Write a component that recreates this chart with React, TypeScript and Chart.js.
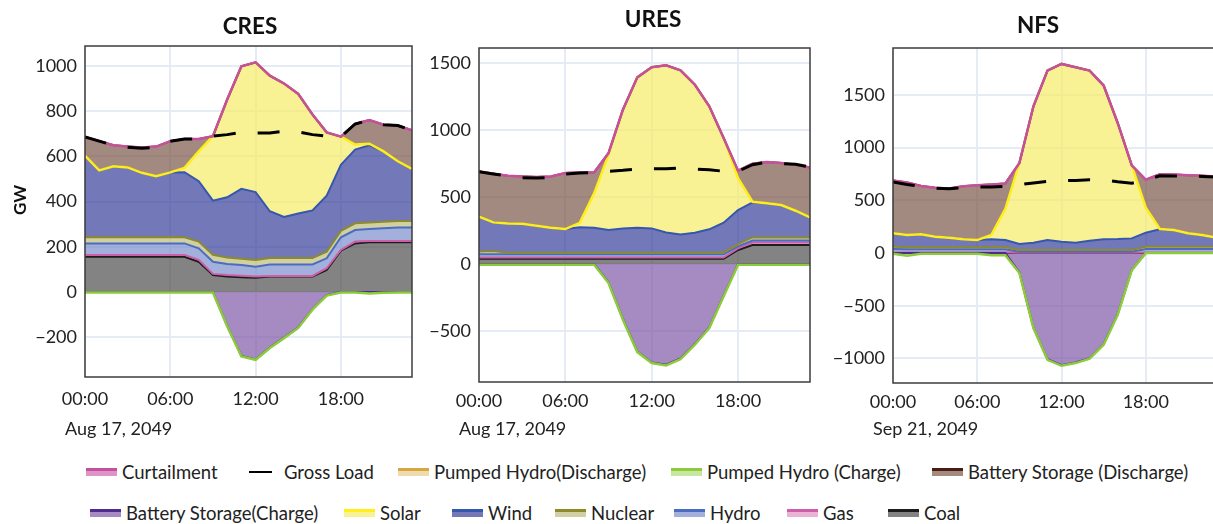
import React, { useEffect, useRef } from 'react';
import { Chart, registerables } from 'chart.js';

Chart.register(...registerables);
Chart.defaults.font.family = "Lato, 'Open Sans', sans-serif";
Chart.defaults.color = '#222';

// ---------- shared axis data ----------
const HOURS = [0, 1, 2, 3, 4, 5, 6, 7, 8, 9, 10, 11, 12, 13, 14, 15, 16, 17, 18, 19, 20, 21, 22, 23];
const X_TICKS = [0, 6, 12, 18];
const CRES_Y_TICKS = [-200, 0, 200, 400, 600, 800, 1000];
const URES_Y_TICKS = [-500, 0, 500, 1000, 1500];
const NFS_Y_TICKS = [-1000, -500, 0, 500, 1000, 1500];

// ---------- CRES (Aug 17, 2049) GW ----------
const CRES_COAL = [156, 156, 156, 156, 156, 156, 156, 156, 134, 75, 68, 65, 63, 68, 68, 68, 68, 97, 183, 215, 220, 220, 220, 220];
const CRES_GAS = [8, 8, 8, 8, 8, 8, 8, 8, 8, 5, 7, 7, 5, 3, 3, 3, 3, 8, 3, 8, 6, 6, 6, 6];
const CRES_HYDRO = [51, 51, 51, 51, 51, 51, 51, 51, 51, 54, 49, 47, 44, 51, 51, 51, 51, 44, 56, 51, 53, 56, 59, 59];
const CRES_NUCLEAR = [27, 27, 27, 27, 27, 27, 27, 27, 30, 30, 29, 28, 30, 28, 28, 28, 28, 29, 28, 30, 28, 29, 29, 29];
const CRES_WIND = [361, 296, 314, 309, 285, 270, 287, 288, 267, 240, 266, 309, 300, 207, 182, 197, 211, 248, 293, 326, 342, 311, 264, 230];
const CRES_SOLAR = [0, 0, 0, 0, 0, 0, 0, 19, 132, 285, 432, 542, 574, 600, 590, 529, 424, 280, 124, 22, 7, 0, 0, 0];
const CRES_BATT_DIS = [83, 129, 93, 92, 112, 131, 138, 128, 55, 0, 0, 0, 0, 0, 0, 0, 0, 0, 0, 91, 104, 118, 158, 171];
const CRES_PH_DIS = [0, 0, 0, 0, 0, 0, 0, 0, 0, 0, 0, 0, 0, 0, 0, 0, 0, 0, 0, 0, 0, 0, 0, 0];
const CRES_CURTAIL = [0, 0, 0, 0, 0, 0, 0, 0, 0, 0, 0, 0, 0, 0, 0, 0, 0, 0, 0, 0, 0, 0, 0, 0];
const CRES_BATT_CHG = [0, 0, 0, 0, 0, 0, 0, 0, 0, 0, -150, -283, -298, -246, -202, -157, -76, -14, 0, 0, 0, 0, 0, 0];
const CRES_PH_CHG = [-2, -2, -2, -2, -2, -2, -2, -2, -2, -2, -2, -2, -2, -2, -2, -2, -2, -2, -2, -2, -7, -3, -2, -2];
const CRES_LOAD = [686, 667, 649, 640, 636, 640, 667, 677, 677, 689, 696, 706, 703, 703, 711, 708, 696, 689, 687, 743, 760, 740, 736, 715];

// ---------- URES (Aug 17, 2049) GW ----------
const URES_COAL = [40, 40, 40, 40, 40, 40, 40, 40, 40, 40, 40, 40, 40, 40, 40, 40, 40, 40, 105, 142, 142, 142, 142, 142];
const URES_GAS = [8, 8, 8, 8, 8, 8, 8, 8, 8, 8, 8, 8, 8, 8, 8, 8, 8, 8, 12, 18, 18, 18, 18, 18];
const URES_HYDRO = [25, 25, 25, 25, 25, 25, 25, 25, 25, 25, 25, 25, 25, 25, 25, 25, 25, 25, 15, 15, 15, 15, 15, 15];
const URES_NUCLEAR = [20, 25, 12, 12, 12, 12, 12, 12, 12, 12, 12, 12, 12, 12, 12, 12, 12, 12, 17, 24, 24, 24, 24, 24];
const URES_WIND = [260, 213, 218, 216, 201, 186, 176, 189, 186, 169, 181, 186, 181, 151, 136, 149, 174, 223, 254, 261, 254, 241, 199, 149];
const URES_SOLAR = [0, 0, 0, 0, 0, 0, 0, 34, 256, 561, 886, 1122, 1202, 1247, 1224, 1104, 918, 632, 237, 5, 0, 0, 0, 0];
const URES_BATT_DIS = [338, 363, 356, 353, 363, 383, 418, 376, 157, 13, 0, 0, 0, 0, 0, 0, 0, 0, 57, 284, 308, 314, 343, 373];
const URES_PH_DIS = [0, 0, 0, 0, 0, 0, 0, 0, 0, 0, 0, 0, 0, 0, 0, 0, 0, 0, 0, 0, 0, 0, 0, 0];
const URES_CURTAIL = [0, 0, 0, 0, 0, 0, 0, 0, 0, 0, 0, 0, 0, 0, 0, 0, 0, 0, 0, 0, 0, 0, 0, 0];
const URES_BATT_CHG = [0, 0, 0, 0, 0, 0, 0, 0, 0, -137, -410, -652, -734, -751, -704, -597, -473, -235, 0, 0, 0, 0, 0, 0];
const URES_PH_CHG = [-5, -5, -5, -5, -5, -5, -5, -5, -5, -5, -5, -5, -5, -5, -5, -5, -5, -5, -5, -5, -5, -5, -5, -5];
const URES_LOAD = [689, 672, 657, 644, 642, 646, 672, 680, 682, 692, 699, 709, 711, 711, 716, 709, 704, 692, 692, 741, 759, 749, 744, 724];

// ---------- NFS (Sep 21, 2049) GW ----------
const NFS_COAL = [0, 0, 0, 0, 0, 0, 0, 0, 0, 0, 0, 0, 0, 0, 0, 0, 0, 0, 0, 0, 0, 0, 0, 0];
const NFS_GAS = [5, 5, 5, 5, 5, 5, 5, 5, 5, 3, 3, 3, 3, 3, 3, 3, 3, 3, 5, 5, 5, 5, 5, 5];
const NFS_HYDRO = [33, 30, 30, 30, 30, 30, 30, 30, 30, 10, 10, 10, 10, 10, 10, 10, 10, 10, 33, 33, 33, 33, 33, 33];
const NFS_NUCLEAR = [22, 19, 19, 19, 19, 19, 19, 19, 19, 15, 15, 15, 15, 15, 15, 15, 15, 15, 22, 22, 22, 22, 22, 22];
const NFS_WIND = [127, 117, 123, 101, 92, 76, 69, 76, 69, 57, 70, 95, 80, 70, 89, 102, 105, 111, 133, 165, 158, 127, 111, 86];
const NFS_SOLAR = [0, 0, 0, 0, 0, 0, 0, 41, 297, 769, 1294, 1608, 1686, 1665, 1614, 1459, 1101, 693, 237, 3, 0, 0, 0, 0];
const NFS_BATT_DIS = [501, 499, 459, 465, 466, 504, 519, 479, 240, 0, 0, 0, 0, 0, 0, 0, 0, 0, 265, 519, 527, 552, 561, 580];
const NFS_PH_DIS = [0, 0, 0, 0, 0, 0, 0, 0, 0, 0, 0, 0, 0, 0, 0, 0, 0, 0, 0, 0, 0, 0, 0, 0];
const NFS_CURTAIL = [0, 0, 0, 0, 0, 0, 0, 0, 0, 0, 0, 0, 0, 0, 0, 0, 0, 0, 0, 0, 0, 0, 0, 0];
const NFS_BATT_CHG = [0, 0, 0, 0, 0, 0, 0, 0, 0, -185, -707, -1008, -1065, -1039, -998, -865, -580, -160, 0, 0, 0, 0, 0, 0];
const NFS_PH_CHG = [-6, -25, -6, -6, -6, -6, -6, -22, -22, -5, -5, -5, -5, -5, -5, -5, -5, -5, 0, 0, 0, 0, 0, 0];
const NFS_LOAD = [675, 650, 632, 616, 609, 622, 625, 626, 632, 648, 665, 680, 686, 689, 694, 694, 676, 662, 694, 732, 730, 728, 727, 722];

// ---------- styles ----------
const NAMES = {
  curt: 'Curtailment', load: 'Gross Load', phDis: 'Pumped Hydro(Discharge)', phChg: 'Pumped Hydro (Charge)',
  battDis: 'Battery Storage (Discharge)', battChg: 'Battery Storage(Charge)', solar: 'Solar', wind: 'Wind',
  nuclear: 'Nuclear', hydro: 'Hydro', gas: 'Gas', coal: 'Coal',
};
const LINE = {
  curt: '#c4509f', load: '#000000', phDis: '#d9a53f', phChg: '#8ccc3a', battDis: '#4a1c12', battChg: '#4e2b8c',
  solar: '#ffee1a', wind: '#3557ae', nuclear: '#8c8a2a', hydro: '#4a6cc2', gas: '#cc5fa8', coal: '#1c1c1c',
};
const FILL = {
  curt: 'rgba(205,105,176,0.7)', load: 'rgba(0,0,0,0)', phDis: 'rgba(229,201,134,0.7)', phChg: 'rgba(176,219,119,0.7)',
  battDis: 'rgba(124,89,74,0.7)', battChg: 'rgba(128,89,168,0.7)', solar: 'rgba(245,236,102,0.7)',
  wind: 'rgba(56,62,155,0.7)', nuclear: 'rgba(188,188,119,0.7)', hydro: 'rgba(124,142,205,0.7)',
  gas: 'rgba(222,142,194,0.7)', coal: 'rgba(78,78,78,0.7)',
};
const SWATCH = {
  curt: '#dd95c6', phDis: '#eedbb0', phChg: '#c8e6a2', battDis: '#a38b80', battChg: '#a68bc2', solar: '#f8f294',
  wind: '#7478b8', nuclear: '#d0d0a4', hydro: '#a4b0dc', gas: '#eab2d5', coal: '#838383',
};

type Panel = {
  title: string; date: string; min: number; max: number; yTicks: number[];
  left: number; width: number; padRight: number; yAxisWidth: number; plotTop: number; xAxisHeight: number;
  titleX: number; titleY: number; tickPad: number; yTitle: boolean;
  coal: number[]; gas: number[]; hydro: number[]; nuclear: number[]; wind: number[]; solar: number[];
  battDis: number[]; phDis: number[]; curt: number[]; battChg: number[]; phChg: number[]; load: number[];
};

const CANVAS_H = 445;

const PANELS: Panel[] = [
  {
    title: 'CRES', date: 'Aug 17, 2049', min: -376, max: 1088, yTicks: CRES_Y_TICKS,
    left: 0, width: 420, padRight: 8, yAxisWidth: 85, plotTop: 46, xAxisHeight: CANVAS_H - 377,
    titleX: 250, titleY: 27, tickPad: 11, yTitle: true,
    coal: CRES_COAL, gas: CRES_GAS, hydro: CRES_HYDRO, nuclear: CRES_NUCLEAR, wind: CRES_WIND, solar: CRES_SOLAR,
    battDis: CRES_BATT_DIS, phDis: CRES_PH_DIS, curt: CRES_CURTAIL, battChg: CRES_BATT_CHG, phChg: CRES_PH_CHG, load: CRES_LOAD,
  },
  {
    title: 'URES', date: 'Aug 17, 2049', min: -880, max: 1612, yTicks: URES_Y_TICKS,
    left: 410, width: 410, padRight: 10, yAxisWidth: 69, plotTop: 48, xAxisHeight: CANVAS_H - 382,
    titleX: 653, titleY: 20, tickPad: 8, yTitle: false,
    coal: URES_COAL, gas: URES_GAS, hydro: URES_HYDRO, nuclear: URES_NUCLEAR, wind: URES_WIND, solar: URES_SOLAR,
    battDis: URES_BATT_DIS, phDis: URES_PH_DIS, curt: URES_CURTAIL, battChg: URES_BATT_CHG, phChg: URES_PH_CHG, load: URES_LOAD,
  },
  {
    title: 'NFS', date: 'Sep 21, 2049', min: -1233, max: 1945, yTicks: NFS_Y_TICKS,
    left: 820, width: 436, padRight: 40, yAxisWidth: 73, plotTop: 48, xAxisHeight: CANVAS_H - 383,
    titleX: 1038, titleY: 26, tickPad: 8, yTitle: false,
    coal: NFS_COAL, gas: NFS_GAS, hydro: NFS_HYDRO, nuclear: NFS_NUCLEAR, wind: NFS_WIND, solar: NFS_SOLAR,
    battDis: NFS_BATT_DIS, phDis: NFS_PH_DIS, curt: NFS_CURTAIL, battChg: NFS_BATT_CHG, phChg: NFS_PH_CHG, load: NFS_LOAD,
  },
];

// legend layout: [key, row, swatch left x]
const LEGEND_LAYOUT: [keyof typeof NAMES, number, number][] = [
  ['curt', 0, 86], ['load', 0, 249], ['phDis', 0, 398], ['phChg', 0, 671], ['battDis', 0, 932],
  ['battChg', 1, 90], ['solar', 1, 344], ['wind', 1, 452], ['nuclear', 1, 555], ['hydro', 1, 674], ['gas', 1, 787], ['coal', 1, 888],
];
const LEGEND_ROW_Y = [472, 513];

function cumulate(layers: number[][]): number[][] {
  const out: number[][] = [];
  let run = HOURS.map(() => 0);
  for (const layer of layers) {
    run = run.map((v, i) => v + layer[i]);
    out.push(run);
  }
  return out;
}

const pts = (vals: number[]) => HOURS.map((h, i) => ({ x: h, y: vals[i] }));

function buildDatasets(p: Panel) {
  const pos = cumulate([p.coal, p.gas, p.hydro, p.nuclear, p.wind, p.solar, p.battDis, p.phDis, p.curt]);
  const neg = cumulate([p.battChg, p.phChg]);
  const mk = (key: keyof typeof NAMES, vals: number[], fill: any, width = 2) => ({
    label: NAMES[key], data: pts(vals), borderColor: LINE[key], backgroundColor: FILL[key],
    borderWidth: width, fill, pointRadius: 0, tension: 0,
  });
  return [
    { ...mk('load', p.load, false, 3), borderDash: [22, 22] },
    mk('curt', pos[8], 2, 2.5),
    mk('phDis', pos[7], 4),
    mk('phChg', neg[1], 5, 2.5),
    mk('battDis', pos[6], 6),
    mk('battChg', neg[0], 'origin'),
    mk('solar', pos[5], 7, 2.5),
    mk('wind', pos[4], 8),
    mk('nuclear', pos[3], 9),
    mk('hydro', pos[2], 10),
    mk('gas', pos[1], 11),
    mk('coal', pos[0], 'origin'),
  ];
}

const FONT = "Lato, 'Open Sans', sans-serif";

const panelDecor = {
  id: 'panelDecor',
  afterDatasetsDraw(chart: any) {
    const { ctx, chartArea: a } = chart;
    ctx.save();
    ctx.strokeStyle = '#3c3c3c';
    ctx.lineWidth = 1.5;
    ctx.strokeRect(a.left, a.top, a.right - a.left, a.bottom - a.top);
    ctx.restore();
  },
  afterDraw(chart: any, _args: any, opts: any) {
    const { ctx } = chart;
    const x0 = chart.scales.x.getPixelForValue(0);
    ctx.save();
    ctx.fillStyle = '#222';
    ctx.textBaseline = 'middle';
    // date under the first tick
    ctx.font = `18px ${FONT}`;
    ctx.textAlign = 'left';
    ctx.fillText(opts.date, x0 - 20, 429);
    // panel title
    ctx.fillStyle = '#111';
    ctx.font = `bold 22.5px ${FONT}`;
    ctx.textAlign = 'center';
    ctx.fillText(opts.title, opts.titleX, opts.titleY);
    // y-axis title
    if (opts.yTitle) {
      ctx.translate(21, 200);
      ctx.rotate(-Math.PI / 2);
      ctx.font = `bold 17px ${FONT}`;
      ctx.fillText('GW', 0, 0);
    }
    ctx.restore();
  },
};

const fmtY = (v: number) => (v < 0 ? '\u2212' + Math.abs(v) : String(v));

function PanelChart({ p }: { p: Panel }) {
  const ref = useRef<HTMLCanvasElement>(null);
  useEffect(() => {
    if (!ref.current) return;
    const chart = new Chart(ref.current, {
      type: 'line',
      data: { datasets: buildDatasets(p) as any },
      plugins: [panelDecor],
      options: {
        animation: false,
        responsive: false,
        devicePixelRatio: 1,
        layout: { padding: { left: 0, right: p.padRight, top: p.plotTop, bottom: 0 } },
        plugins: {
          legend: { display: false },
          tooltip: { enabled: false },
          title: { display: false },
          filler: { propagate: false, drawTime: 'beforeDatasetsDraw' },
          panelDecor: {
            date: p.date, title: p.title, titleX: p.titleX - p.left, titleY: p.titleY, yTitle: p.yTitle,
          },
        } as any,
        scales: {
          x: {
            type: 'linear', min: 0, max: 23,
            afterFit: (s: any) => { s.height = p.xAxisHeight; },
            afterBuildTicks: (s: any) => { s.ticks = X_TICKS.map((v) => ({ value: v })); },
            ticks: {
              padding: p.tickPad, color: '#222',
              font: { size: 18 }, maxRotation: 0, autoSkip: false,
              callback: (v: any) => String(v).padStart(2, '0') + ':00',
            },
            grid: { color: '#e6ecf6', lineWidth: 2, drawTicks: false },
            border: { display: false },
          },
          y: {
            type: 'linear', min: p.min, max: p.max,
            afterFit: (s: any) => { s.width = p.yAxisWidth; },
            afterBuildTicks: (s: any) => { s.ticks = p.yTicks.map((v) => ({ value: v })); },
            ticks: {
              padding: 8, color: '#222', autoSkip: false,
              font: { size: 18 }, callback: (v: any) => fmtY(Number(v)),
            },
            grid: { color: '#e6ecf6', lineWidth: 2, drawTicks: false },
            border: { display: false },
          },
        },
      } as any,
    });
    return () => chart.destroy();
  }, [p]);
  return (
    <canvas
      ref={ref}
      width={p.width}
      height={CANVAS_H}
      style={{ position: 'absolute', left: p.left, top: 0, width: p.width, height: CANVAS_H }}
    />
  );
}

function Legend() {
  return (
    <>
      {LEGEND_LAYOUT.map(([key, row, x]) => {
        const y = LEGEND_ROW_Y[row];
        const isLine = key === 'load';
        return (
          <div
            key={key}
            style={{
              position: 'absolute', left: x, top: y - 12, height: 24, display: 'flex', alignItems: 'center',
              whiteSpace: 'nowrap', font: `18.5px ${FONT}`, color: '#222',
            }}
          >
            {isLine ? (
              <div style={{ width: 23, height: 2, background: '#000', marginRight: 12 }} />
            ) : (
              <div style={{ width: 31, height: 8, marginRight: 5, display: 'flex', flexDirection: 'column' }}>
                <div style={{ height: 3, background: LINE[key] }} />
                <div style={{ height: 5, background: (SWATCH as any)[key] }} />
              </div>
            )}
            <span>{NAMES[key]}</span>
          </div>
        );
      })}
    </>
  );
}

export default function App() {
  return (
    <div
      style={{
        position: 'fixed', left: 0, top: 0, width: 1213, height: 524, overflow: 'hidden', background: '#fff',
      }}
    >
      {PANELS.map((p) => (
        <PanelChart key={p.title} p={p} />
      ))}
      <Legend />
    </div>
  );
}
